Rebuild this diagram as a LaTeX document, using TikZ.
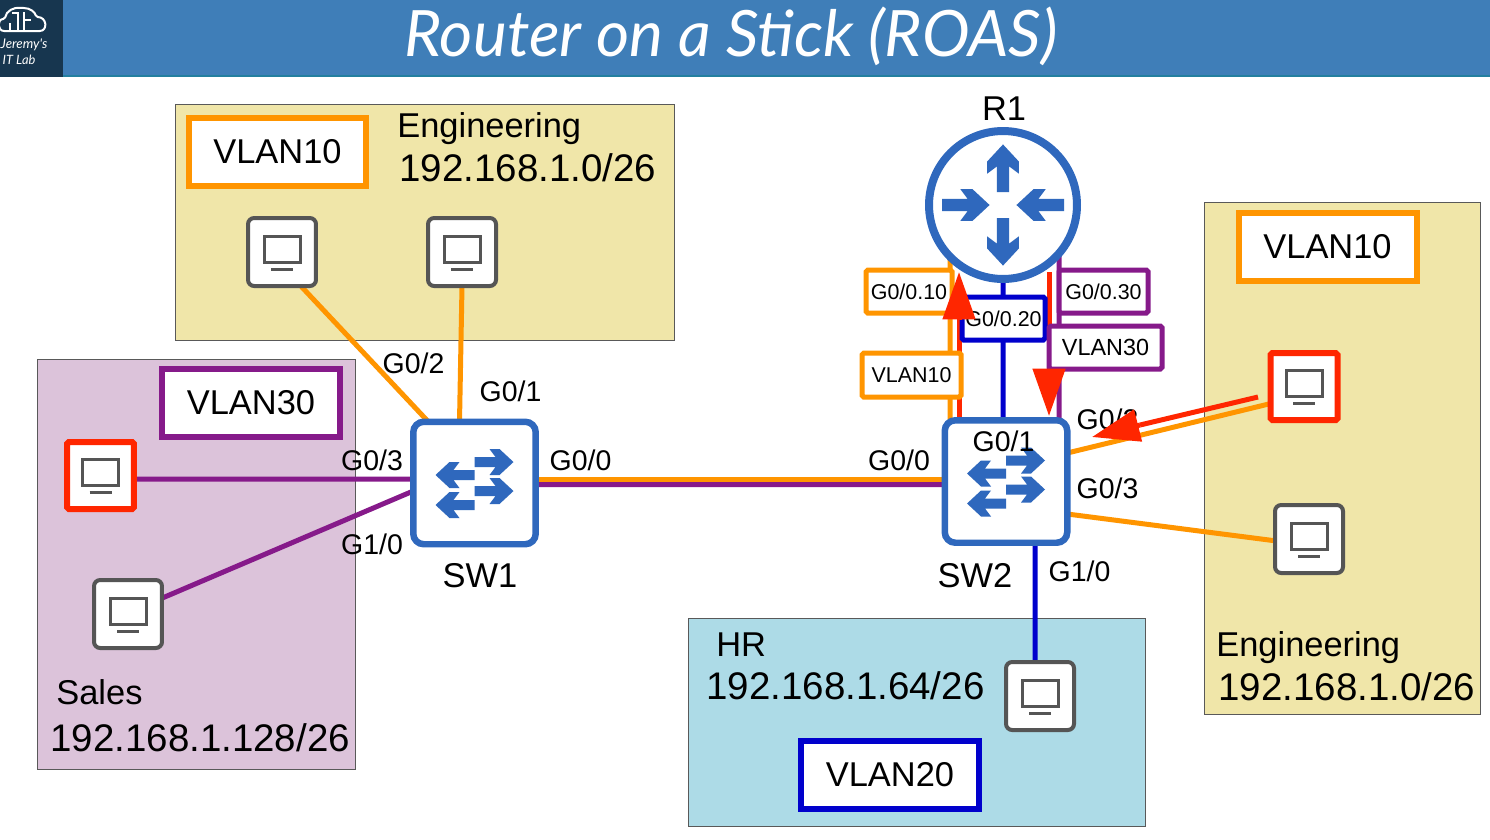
\documentclass[tikz,border=0pt]{standalone}
\usepackage{fontspec}
\setmainfont{Liberation Sans}
\newfontfamily\titlefont{Lato}
\usetikzlibrary{arrows.meta, backgrounds}
\definecolor{headblue}{RGB}{63,126,184}
\definecolor{logodark}{RGB}{23,54,79}
\definecolor{vorange}{RGB}{255,149,0}
\definecolor{vpurple}{RGB}{134,26,138}
\definecolor{vblue}{RGB}{0,0,204}
\definecolor{devblue}{RGB}{47,104,189}
\definecolor{flowred}{RGB}{255,38,0}
\definecolor{pcgray}{RGB}{85,85,85}
\definecolor{engfill}{RGB}{240,230,169}
\definecolor{salesfill}{RGB}{220,195,218}
\definecolor{hrfill}{RGB}{173,219,231}
\tikzset{
  zone/.style     = {draw=black!65, line width=0.5pt, anchor=north west, inner sep=0pt, outer sep=0pt},
  vlanbox/.style  = {draw=#1, fill=white, line width=0.12cm, minimum width=3.56cm, minimum height=1.36cm,
                     inner sep=0pt, outer sep=0pt, font=\fontsize{19.6}{22}\selectfont},
  subbox/.style   = {draw=#1, fill=white, line width=0.1cm, rounded corners=1pt, inner sep=0pt, outer sep=0pt,
                     font=\fontsize{12.2}{14}\selectfont},
  pcbox/.style    = {draw=pcgray, fill=white, line width=0.08cm, rounded corners=3.5pt, minimum size=1.36cm,
                     inner sep=0pt, outer sep=0pt},
  redpc/.style    = {pcbox, draw=flowred, line width=0.12cm, rounded corners=1pt, minimum size=1.34cm},
  swbox/.style    = {draw=devblue, fill=white, line width=0.13cm, rounded corners=6pt, minimum size=2.45cm,
                     inner sep=0pt, outer sep=0pt},
  rtrbox/.style   = {circle, draw=devblue, fill=white, line width=0.16cm, minimum size=2.96cm,
                     inner sep=0pt, outer sep=0pt},
  link/.style     = {draw=#1, line width=0.1cm},
  flowline/.style = {draw=flowred, line width=0.1cm},
  flowhead/.style = {draw=flowred, line width=0.1cm,
                     -{Triangle[length=0.95cm,width=0.64cm,fill=flowred]}},
  port/.style     = {font=\fontsize{16.2}{18}\selectfont, inner sep=0pt},
  devname/.style  = {font=\fontsize{19.6}{22}\selectfont, inner sep=0pt},
  zonetext/.style = {font=\fontsize{19.6}{22}\selectfont, inner sep=0pt, anchor=west},
  zonenet/.style  = {font=\fontsize{21.9}{24}\selectfont, inner sep=0pt, anchor=west},
  % one blue arrow, tail at the origin
  chev/.pic = {\fill[devblue] (0,-5) -- (21,-5) -- (15,-13) -- (25,-13) -- (39,0) -- (25,13)
               -- (15,13) -- (21,5) -- (0,5) -- cycle;},
  swglyph/.pic = {
    \pic at (0,-21) {chev};
    \pic at (0,8) {chev};
    \pic[rotate=180] at (0,-8) {chev};
    \pic[rotate=180] at (0,22) {chev};
  },
  rtrglyph/.pic = {
    \pic[rotate=90, scale=1.22] at (0,-13) {chev};
    \pic[rotate=-90, scale=1.22] at (0,13) {chev};
    \pic[scale=1.22] at (-61,0) {chev};
    \pic[rotate=180, scale=1.22] at (61,0) {chev};
  },
  pcglyph/.pic = {
    \draw[pcgray, line width=0.06cm] (-18,-16) rectangle (18,10);
    \draw[pcgray, line width=0.06cm] (-11,17) -- (11,17);
  },
}

\begin{document}
\begin{tikzpicture}[x=0.02cm, y=-0.02cm]
    \useasboundingbox (0,0) rectangle (1490,839);

    % header
    \fill[teal!45!headblue] (0,75) rectangle (1490,77);
    \node[fill=headblue, minimum width=28.54cm, minimum height=1.5cm, inner sep=0pt, anchor=north west] (head) at (63,0) {};
    \node[fill=logodark, minimum width=1.26cm, minimum height=1.54cm, inner sep=0pt, anchor=north west] (logo) at (0,0) {};
    \draw[white, line width=0.04cm, rounded corners=1pt] (6,31) .. controls (-3,31) and (-3,19) .. (5,19)
      .. controls (6,11) and (14,7) .. (22,8) .. controls (30,8) and (35,12) .. (36,17)
      .. controls (47,17) and (48,31) .. (38,31) -- cycle;
    \draw[white, line width=0.025cm] (10,30) -- (10,23) (18,30) -- (18,13) -- (12,13)
      (24,30) -- (24,12) (24,20) -- (31,20);
    \node[text=white, font=\titlefont\itshape\fontsize{7.6}{10}\selectfont, inner sep=0pt] (logo1) at (24,45) {Jeremy's};
    \node[text=white, font=\titlefont\itshape\fontsize{7.3}{9}\selectfont, inner sep=0pt] (logo2) at (19,60) {IT Lab};
    \node[text=white, font=\titlefont\itshape\fontsize{36.4}{40}\selectfont, inner sep=0pt] (title) at (731,36) {Router on a Stick (ROAS)};

    % devices
    \foreach \n/\x/\y/\s in {pc1/282/252/pcbox, pc2/462/252/pcbox, pc3/100.5/475.5/redpc,
      pc4/128/614/pcbox, pc5/1040/696/pcbox, pc6/1304/386.5/redpc, pc7/1309/539/pcbox} {
      \node[\s] (\n) at (\x,\y) {};
      \pic at (\n) {pcglyph};
    }
    \node[swbox] (sw1) at (474.5,483) {};
    \node[swbox] (sw2) at (1006,481.5) {};
    \node[rtrbox] (r1) at (1003,205) {};
    \pic at (sw1) {swglyph};
    \pic at (sw2) {swglyph};
    \pic at (r1) {rtrglyph};
    \node[devname] (r1name) at (1004,109) {R1};
    \node[devname] (sw1name) at (480,576) {SW1};
    \node[devname] (sw2name) at (975,576) {SW2};

    \begin{scope}[on background layer]
    % zones
    \node[zone, fill=engfill, minimum width=10cm, minimum height=4.72cm] (engtop) at (175,104) {};
    \node[zone, fill=salesfill, minimum width=6.36cm, minimum height=8.22cm] (sales) at (37,359) {};
    \node[zone, fill=hrfill, minimum width=9.16cm, minimum height=4.16cm] (hr) at (688,618) {};
    \node[zone, fill=engfill, minimum width=5.52cm, minimum height=10.26cm] (engright) at (1204,202) {};

    \node[zonetext] (engtopname) at (397,129) {Engineering};
    \node[zonenet] (engtopnet) at (399,168) {192.168.1.0/26};
    \node[zonetext] (salesname) at (56,692) {Sales};
    \node[zonenet] (salesnet) at (50,738) {192.168.1.128/26};
    \node[zonetext] (hrname) at (716,645) {HR};
    \node[zonenet] (hrnet) at (706,686) {192.168.1.64/26};
    \node[zonetext] (engrightname) at (1216,648) {Engineering};
    \node[zonenet] (engrightnet) at (1218,687) {192.168.1.0/26};

    \node[vlanbox=vorange] (vlan10top) at (277.5,152) {VLAN10};
    \node[vlanbox=vpurple] (vlan30) at (251,403) {VLAN30};
    \node[vlanbox=vblue] (vlan20) at (890,775) {VLAN20};
    \node[vlanbox=vorange] (vlan10right) at (1327.5,247) {VLAN10};

    % links
    \draw[link=vorange] (pc1.-61) -- (sw1.127);
    \draw[link=vorange] (pc2.south) -- ([xshift=-0.3cm]sw1.north);
    \draw[link=vpurple] ([yshift=-0.07cm]pc3.east) -- ([yshift=0.08cm]sw1.west);
    \draw[link=vpurple] (pc4.25) -- ([yshift=-0.16cm]sw1.west);
    \draw[link=vorange] ([yshift=0.07cm]sw1.east) -- ([yshift=0.04cm]sw2.west);
    \draw[link=vpurple] ([yshift=-0.03cm]sw1.east) -- ([yshift=-0.06cm]sw2.west);
    \draw[link=vorange] ([xshift=-1.06cm]r1.center) -- ([xshift=-1.12cm]sw2.north);
    \draw[link=vblue] (r1.center) -- ([xshift=-0.06cm]sw2.north);
    \draw[link=vpurple] ([xshift=1.12cm]r1.center) -- ([xshift=1.06cm]sw2.north);
    \draw[link=vorange] (pc6.-153) -- ([yshift=0.57cm]sw2.east);
    \draw[link=vorange] (pc7.183) -- ([yshift=-0.65cm]sw2.east);
    \draw[link=vblue] ([xshift=0.58cm]sw2.south) -- ([xshift=-0.1cm]pc5.north);

    \coordinate (upstart) at (959,420);
    \coordinate (upbase) at (959,320);
    \coordinate (uptip) at (959,272);
    \coordinate (downstart) at (1049,272);
    \coordinate (downbase) at (1049,369);
    \coordinate (downtip) at (1049,416);
    \draw[flowline] (upstart) -- (upbase);
    \draw[flowline] (downstart) -- (downbase);
    \end{scope}

    % subinterface tags
    \node[subbox=vorange, minimum width=1.72cm, minimum height=0.86cm] (sub10) at (909,291.5) {G0/0.10};
    \node[subbox=vblue, minimum width=1.66cm, minimum height=0.86cm] (sub20) at (1003.5,318.5) {G0/0.20};
    \node[subbox=vpurple, minimum width=1.78cm, minimum height=0.86cm] (sub30) at (1103.5,291.5) {G0/0.30};
    \node[subbox=vorange, minimum width=1.98cm, minimum height=0.88cm] (tag10) at (911.5,375) {VLAN10};
    \node[subbox=vpurple, minimum width=2.26cm, minimum height=0.86cm, font=\fontsize{13.3}{15}\selectfont] (tag30) at (1105.5,347.5) {VLAN30};

    % port labels
    \node[port] (p1) at (413.5,363.5) {G0/2};
    \node[port] (p2) at (510.5,391.5) {G0/1};
    \node[port] (p3) at (372,460.5) {G0/3};
    \node[port] (p4) at (372,544) {G1/0};
    \node[port] (p5) at (580.5,460.5) {G0/0};
    \node[port] (p6) at (899,460.5) {G0/0};
    \node[port] (p7) at (1003.5,441) {G0/1};
    \node[port] (p8) at (1107.5,419) {G0/2};
    \node[port] (p9) at (1107.5,488.5) {G0/3};
    \node[port] (p10) at (1079.5,571.5) {G1/0};

    % red arrows
    \coordinate (intail) at (1258,397);
    \coordinate (inbase) at (1140,425);
    \coordinate (intip) at (1092,437);
    \draw[flowline] (intail) -- (inbase);
    \draw[flowhead] (upbase) -- (uptip);
    \draw[flowhead] (downbase) -- (downtip);
    \draw[flowhead] (inbase) -- (intip);
\end{tikzpicture}
\end{document}
